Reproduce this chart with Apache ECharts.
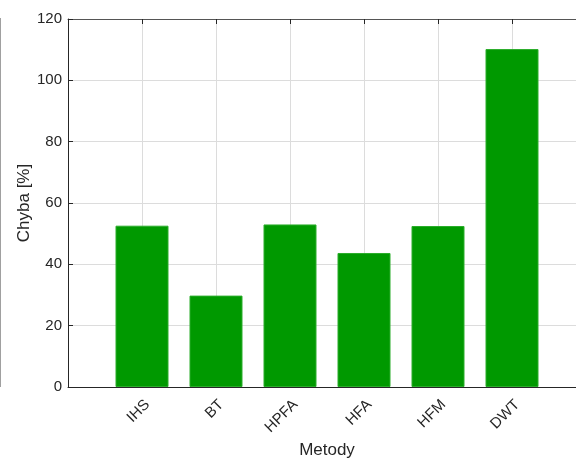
<!DOCTYPE html>
<html>
<head>
<meta charset="utf-8">
<script src="https://cdn.jsdelivr.net/npm/echarts@6/dist/echarts.min.js"></script>
<style>
  html, body { margin: 0; padding: 0; background: #fff; }
  #chart { width: 576px; height: 458px; }
</style>
</head>
<body>
<div id="chart"></div>
<script>
// Error of each fusion method
const categories = ['IHS', 'BT', 'HPFA', 'HFA', 'HFM', 'DWT'];
const errors = [52.6, 29.8, 53.0, 43.7, 52.5, 110.2];
const yTicks = [0, 20, 40, 60, 80, 100, 120];

const FONT = '"Liberation Sans", Arial, sans-serif';
const TXT = '#262626';

// bars sit at positions 1..n on a 0..n+1 value axis
const barData = errors.map((v, i) => [i + 1, v]);

const chart = echarts.init(document.getElementById('chart'), null, { renderer: 'canvas' });
chart.setOption({
  animation: false,
  backgroundColor: '#fff',
  grid: {
    left: 68, top: 19, width: 518, height: 368,
    containLabel: false,
    outerBoundsMode: 'none'
  },
  xAxis: [{
    type: 'value',
    min: 0,
    max: categories.length + 1,
    interval: 1,
    position: 'bottom',
    name: 'Metody',
    nameLocation: 'middle',
    nameGap: 55,
    nameMoveOverlap: false,
    nameTextStyle: { color: TXT, fontSize: 17, fontFamily: FONT },
    axisLine: { show: true, onZero: false, lineStyle: { color: TXT, width: 1 } },
    axisTick: { show: false },
    splitLine: { show: true, lineStyle: { color: '#dcdcdc', width: 1 } },
    axisLabel: {
      rotate: 45,
      margin: 10,
      align: 'right',
      verticalAlign: 'top',
      color: TXT,
      fontSize: 15,
      fontFamily: FONT,
      formatter: v => categories[v - 1] || ''
    }
  }, {
    type: 'value',
    min: 0,
    max: categories.length + 1,
    interval: 1,
    position: 'top',
    axisLine: { show: true, onZero: false, lineStyle: { color: '#555', width: 1 } },
    axisTick: { show: true, inside: true, length: 5, lineStyle: { color: TXT } },
    axisLabel: { show: false },
    splitLine: { show: false }
  }],
  yAxis: {
    type: 'value',
    min: yTicks[0],
    max: yTicks[yTicks.length - 1],
    interval: yTicks[1] - yTicks[0],
    name: 'Chyba [%]',
    nameLocation: 'middle',
    nameGap: 35,
    nameMoveOverlap: false,
    nameTextStyle: { color: TXT, fontSize: 17, fontFamily: FONT },
    axisLine: { show: true, lineStyle: { color: TXT, width: 1 } },
    axisTick: { show: true, inside: true, length: 5, lineStyle: { color: TXT } },
    splitLine: { show: true, lineStyle: { color: '#dcdcdc', width: 1 } },
    axisLabel: { color: TXT, fontSize: 15, fontFamily: FONT, margin: 6 }
  },
  series: [{
    type: 'bar',
    data: barData,
    barWidth: 53,
    itemStyle: { color: '#009900', borderColor: '#2aad2a', borderWidth: 1 },
    z: 3
  }],
  graphic: [{
    type: 'line',
    shape: { x1: 0.5, y1: 18, x2: 0.5, y2: 387 },
    style: { stroke: '#a0a0a0', lineWidth: 1 }
  }]
});
</script>
</body>
</html>
